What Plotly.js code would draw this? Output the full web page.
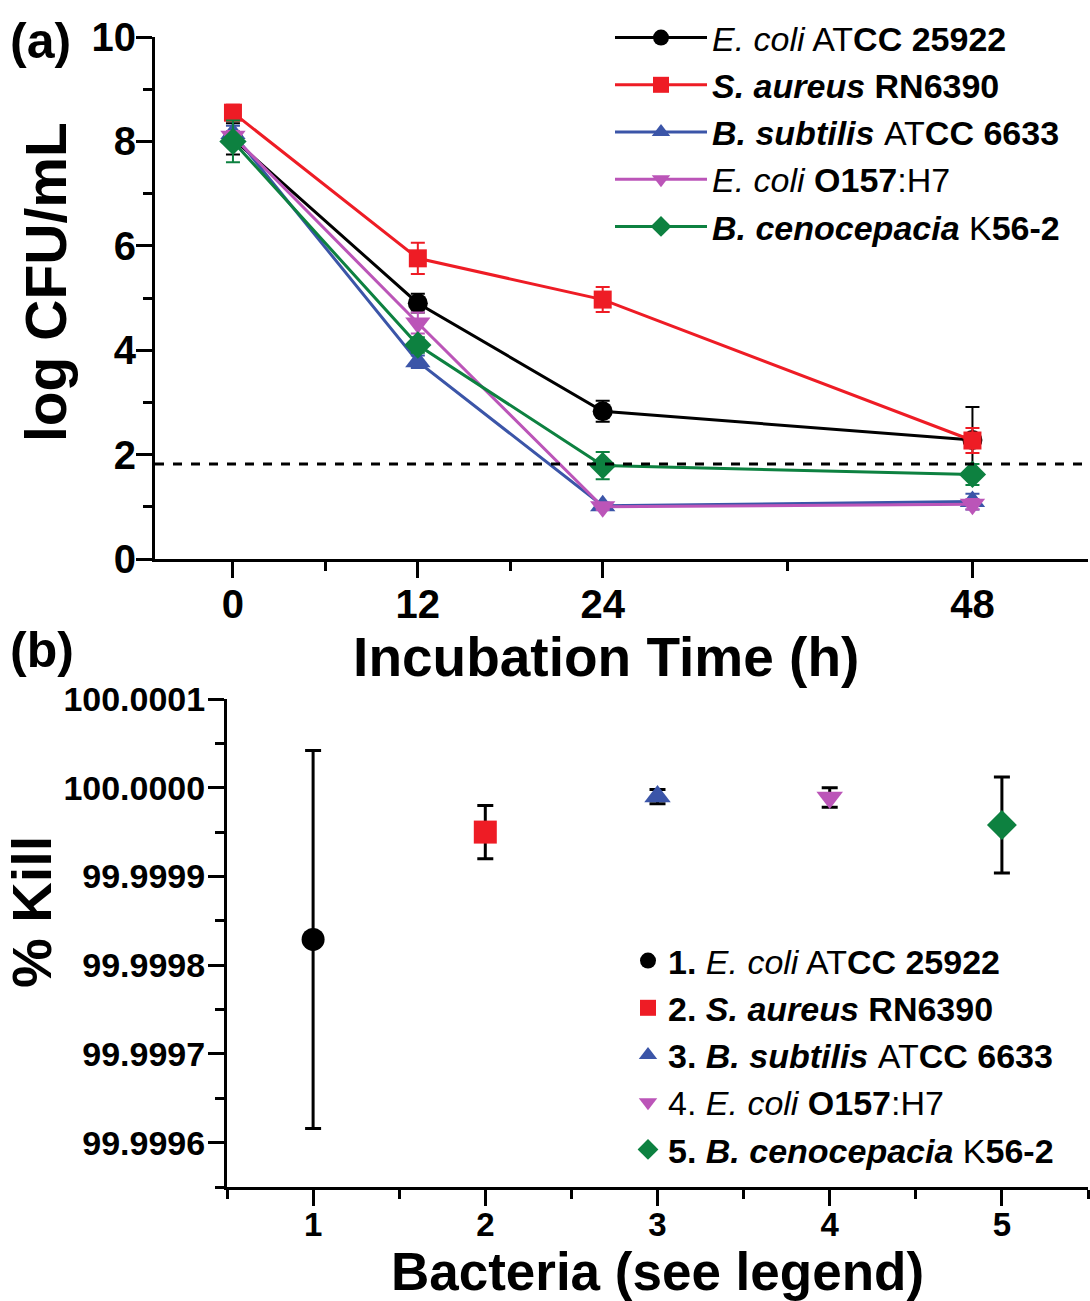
<!DOCTYPE html>
<html>
<head>
<meta charset="utf-8">
<script src="https://cdn.plot.ly/plotly-3.0.1.min.js"></script>
<style>html,body{margin:0;padding:0;background:#fff;}#chart{width:1090px;height:1301px;}</style>
</head>
<body>
<div id="chart"></div>
<script>
// ---------- Panel (a) data: log CFU/mL vs incubation time ----------
const times = [0, 12, 24, 48];
const timeTickVals = [0, 12, 24, 48];
const timeMinorTicks = [6, 18, 36];

const R = '<span style="font-weight:normal">';
const seriesNamesA = [
  R + "<i>E. coli</i> AT</span>CC 25922",
  "<i>S. aureus</i> RN6390",
  "<i>B. subtilis</i> " + R + "AT</span>CC 6633",
  R + "<i>E. coli</i></span> O157" + R + ":H7</span>",
  "<i>B. cenocepacia</i> " + R + "K</span>56-2"
];
const ecoli25922Log = [8.05, 4.90, 2.83, 2.28];
const ecoli25922Err = [0.30, 0.18, 0.20, 0.63];
const saureusLog    = [8.55, 5.76, 4.97, 2.27];
const saureusErr    = [0.15, 0.30, 0.24, 0.24];
const bsubtilisLog  = [8.15, 3.78, 1.02, 1.10];
const bsubtilisErr  = [0.15, 0.12, 0.06, 0.15];
const ecoliO157Log  = [8.10, 4.52, 1.00, 1.05];
const ecoliO157Err  = [0.10, 0.20, 0.06, 0.10];
const bcenoLog      = [8.00, 4.10, 1.79, 1.62];
const bcenoErr      = [0.40, 0.15, 0.26, 0.20];
const detectionLimit = 1.82;

// ---------- Panel (b) data: % kill per bacterium ----------
const bacteriaIndex = [1, 2, 3, 4, 5];
const seriesNamesB = [
  "1. " + seriesNamesA[0],
  "2. " + seriesNamesA[1],
  "3. " + seriesNamesA[2],
  R + "4. </span>" + seriesNamesA[3],
  "5. " + seriesNamesA[4]
];
const killPercent = [99.999829, 99.99995, 99.99999, 99.999989, 99.999958];
const killErr     = [0.000213, 0.00003, 0.000008, 0.000011, 0.000054];
const killTickVals = [99.9996, 99.9997, 99.9998, 99.9999, 100.0000, 100.0001];
const killTickText = ["99.9996", "99.9997", "99.9998", "99.9999", "100.0000", "100.0001"];
const killMinorTicks = [99.99955, 99.99965, 99.99975, 99.99985, 99.99995, 100.00005];
const bacteriaMinorTicks = [0.5, 1.5, 2.5, 3.5, 4.5, 5.5];

// ---------- styles ----------
const colors = ["#000000", "#ee1c25", "#3b55a8", "#bb55b8", "#0d8140"];
const symbols = ["circle", "square", "triangle-up", "triangle-down", "diamond"];
const FONT = "Liberation Sans, Arial, sans-serif";
const pad = n => "<span>" + "\u00a0".repeat(n) + "</span>";

const logSeries = [ecoli25922Log, saureusLog, bsubtilisLog, ecoliO157Log, bcenoLog];
const errSeries = [ecoli25922Err, saureusErr, bsubtilisErr, ecoliO157Err, bcenoErr];
const markerSizesA = [20, 18, 22, 22, 21];

const traces = [];
for (let i = 0; i < 5; i++) {
  traces.push({
    type: "scatter", mode: "lines+markers",
    x: times, y: logSeries[i],
    name: seriesNamesA[i],
    xaxis: "x", yaxis: "y", legend: "legend",
    line: {color: colors[i], width: 3},
    marker: {color: colors[i], symbol: symbols[i], size: markerSizesA[i]},
    error_y: {type: "data", array: errSeries[i], visible: true, color: colors[i], thickness: 2, width: 7},
    cliponaxis: false
  });
}
for (let i = 0; i < 5; i++) {
  traces.push({
    type: "scatter", mode: "markers",
    x: [bacteriaIndex[i]], y: [killPercent[i]],
    name: seriesNamesB[i],
    xaxis: "x2", yaxis: "y2", legend: "legend2",
    marker: {color: colors[i], symbol: symbols[i], size: 23},
    error_y: {type: "data", array: [killErr[i]], visible: true, color: "#000", thickness: 3, width: 8},
    cliponaxis: false
  });
}

const tickFontA = {family: FONT, size: 40, color: "#000", weight: "bold"};
const tickFontB = {family: FONT, size: 34, color: "#000", weight: "bold"};
const titleFont = {family: FONT, size: 55, color: "#000", weight: "bold"};
const legendFont = {family: FONT, size: 34, color: "#000", weight: "bold"};

const axisCommon = {
  showline: true, linecolor: "#000", linewidth: 3, mirror: false,
  showgrid: false, zeroline: false, ticks: "outside", tickwidth: 3,
  tickcolor: "#000", ticklen: 16, automargin: false, fixedrange: true
};
const minorStyle = {ticks: "outside", ticklen: 9, tickwidth: 3, tickcolor: "#000"};

const layout = {
  width: 1090, height: 1301,
  margin: {l: 0, r: 0, t: 0, b: 0},
  paper_bgcolor: "#fff", plot_bgcolor: "#fff",
  showlegend: true,
  xaxis: Object.assign({}, axisCommon, {
    domain: [155/1090, 1088/1090], anchor: "y",
    range: [-5.06, 55.5], ticklabelstandoff: -8,
    tickmode: "array", tickvals: timeTickVals, tickfont: tickFontA,
    minor: Object.assign({tickmode: "array", tickvals: timeMinorTicks}, minorStyle),
    title: {text: "Incubation Time (h)" + pad(2), font: titleFont, standoff: 0}
  }),
  yaxis: Object.assign({}, axisCommon, {
    domain: [1 - 559/1301, 1 - 37/1301], anchor: "x",
    range: [0, 10], ticklabelstandoff: -8,
    tickmode: "array", tickvals: [0, 2, 4, 6, 8, 10], tickfont: tickFontA,
    minor: Object.assign({tickmode: "array", tickvals: [1, 3, 5, 7, 9]}, minorStyle),
    title: {text: pad(2) + "log CFU/mL", font: {family: FONT, size: 57, color: "#000", weight: "bold"}, standoff: 7}
  }),
  xaxis2: Object.assign({}, axisCommon, {
    domain: [227/1090, 1088/1090], anchor: "y2",
    range: [0.5, 5.5], ticklabelstandoff: -10,
    tickmode: "array", tickvals: bacteriaIndex, tickfont: {family: FONT, size: 33, color: "#000", weight: "bold"},
    minor: Object.assign({tickmode: "array", tickvals: bacteriaMinorTicks}, minorStyle),
    title: {text: "Bacteria (see legend)", font: {family: FONT, size: 53, color: "#000", weight: "bold"}, standoff: 17}
  }),
  yaxis2: Object.assign({}, axisCommon, {
    domain: [1 - 1187/1301, 1 - 699/1301], anchor: "x2",
    range: [99.99955, 100.0001], ticklabelstandoff: -4,
    tickmode: "array", tickvals: killTickVals, ticktext: killTickText, tickfont: tickFontB,
    minor: Object.assign({tickmode: "array", tickvals: killMinorTicks}, minorStyle),
    title: {text: pad(4) + "% Kill", font: {family: FONT, size: 56, color: "#000", weight: "bold"}, standoff: 12}
  }),
  legend: {
    x: 610/1090, y: 1 - 9/1301, xanchor: "left", yanchor: "top",
    bgcolor: "rgba(0,0,0,0)", font: legendFont, itemwidth: 92,
    tracegroupgap: 0, itemclick: false, itemdoubleclick: false
  },
  legend2: {
    x: 628/1090, y: 1 - 932/1301, xanchor: "left", yanchor: "top",
    bgcolor: "rgba(0,0,0,0)", font: legendFont, itemwidth: 30,
    tracegroupgap: 0, itemclick: false, itemdoubleclick: false
  },
  shapes: [{
    type: "line", xref: "x domain", yref: "y",
    x0: 0, x1: 1, y0: detectionLimit, y1: detectionLimit,
    line: {color: "#000", width: 3, dash: "dash"}
  }],
  annotations: [
    {text: "(a)", xref: "paper", yref: "paper", x: 8/1090, y: 1 - 41/1301, xanchor: "left", yanchor: "middle",
     showarrow: false, font: {family: FONT, size: 50, color: "#000", weight: "bold"}},
    {text: "(b)", xref: "paper", yref: "paper", x: 8/1090, y: 1 - 650/1301, xanchor: "left", yanchor: "middle",
     showarrow: false, font: {family: FONT, size: 50, color: "#000", weight: "bold"}}
  ]
};

Plotly.newPlot("chart", traces, layout, {displayModeBar: false, staticPlot: true});
</script>
</body>
</html>
